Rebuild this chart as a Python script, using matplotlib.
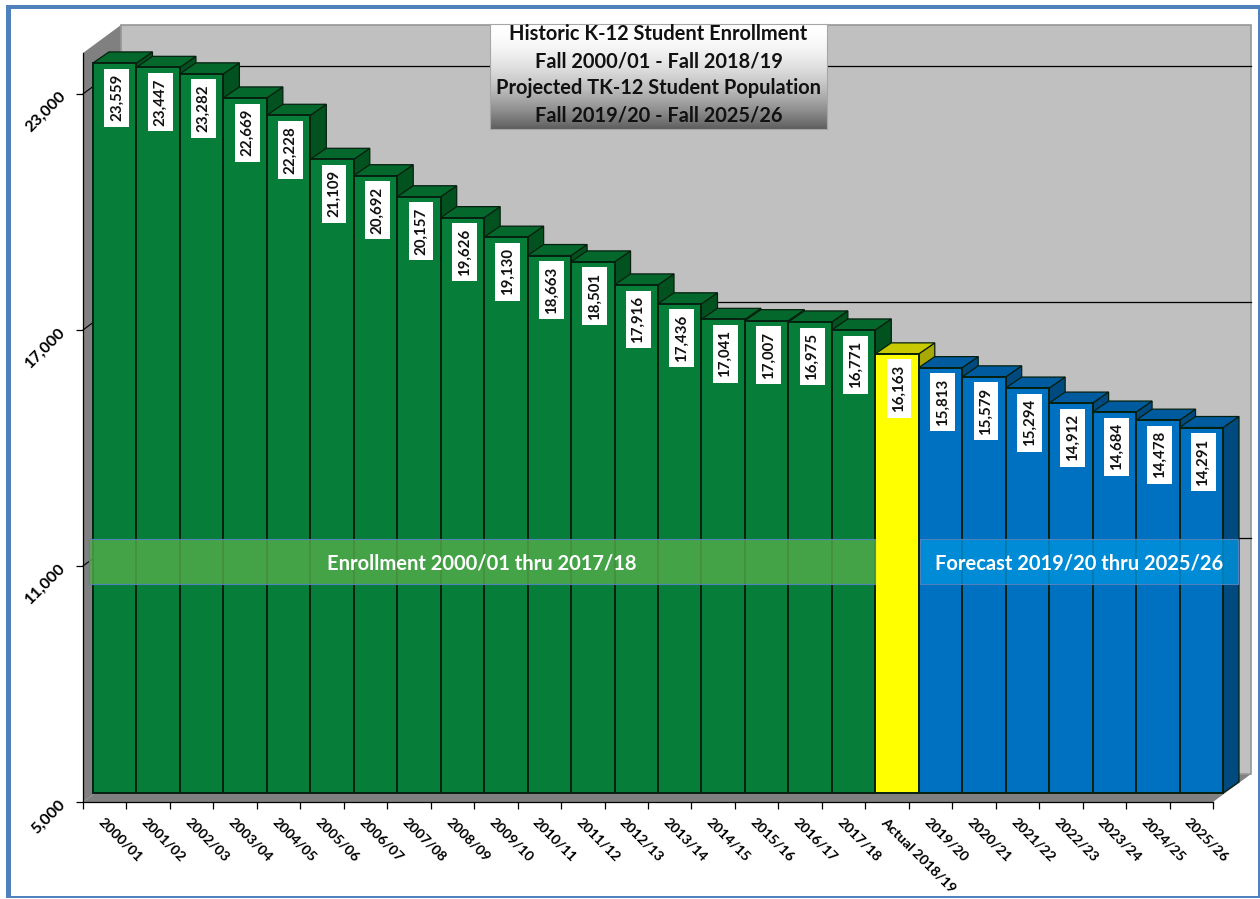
import matplotlib; matplotlib.use('Agg')
import matplotlib.pyplot as plt
import numpy as np
from matplotlib.patches import Rectangle
from matplotlib.transforms import Affine2D

# data
hist_years=['2000/01','2001/02','2002/03','2003/04','2004/05','2005/06','2006/07','2007/08','2008/09',
            '2009/10','2010/11','2011/12','2012/13','2013/14','2014/15','2015/16','2016/17','2017/18']
hist_values=[23559,23447,23282,22669,22228,21109,20692,20157,19626,19130,18663,18501,17916,17436,17041,17007,16975,16771]
actual_years=['Actual 2018/19']
actual_values=[16163]
fcst_years=['2019/20','2020/21','2021/22','2022/23','2023/24','2024/25','2025/26']
fcst_values=[15813,15579,15294,14912,14684,14478,14291]
y_ticks=[5000,11000,17000,23000]
title_lines=['Historic K-12 Student Enrollment','Fall 2000/01 - Fall 2018/19',
             'Projected TK-12 Student Population','Fall 2019/20 - Fall 2025/26']

W,H=1260,899
plt.rcParams['font.family']=['Lato','DejaVu Sans']
fig=plt.figure(figsize=(W/100,H/100),dpi=100,facecolor='white')

# 像素 -> figure fraction, y counted from the top like the picture
def box(x0,y0,x1,y1):
    return [x0/W,1-y1/H,(x1-x0)/W,(y1-y0)/H]

ax=fig.add_axes(box(83,53,1213,802))
ax.patch.set_visible(False)
cats=hist_years+actual_years+fcst_years
vals=hist_values+actual_values+fcst_values
n=len(cats)
ymin,ymax=5000,24040
ax.set_xlim(0,n)
ax.set_ylim(ymin,ymax)
cat_w=1130/n
k=749/(ymax-ymin)

# depth of the fake 3d, pixels turned into data units
wall_dx,wall_dy=38/cat_w,28/k
bar_dx,bar_dy=16/cat_w,11/k
bar_tr=ax.transData+Affine2D().translate(10,9)
back_tr=ax.transData+Affine2D().translate(38,28)

# walls and floor
ax.fill([0,0,wall_dx,wall_dx],[ymin,ymax,ymax+wall_dy,ymin+wall_dy],color='#808080',zorder=1,clip_on=False,lw=0)
ax.fill([0,n,n+wall_dx,wall_dx],[ymin,ymin,ymin+wall_dy,ymin+wall_dy],color='#808080',zorder=1,clip_on=False,lw=0)
ax.fill([wall_dx,n+wall_dx,n+wall_dx,wall_dx],[ymin+wall_dy,ymin+wall_dy,ymax+wall_dy,ymax+wall_dy],
        facecolor='#c0c0c0',edgecolor='#969696',lw=1.2,zorder=1,clip_on=False)

# gridlines on back wall, with the short diagonal on the side wall
for v in y_ticks[1:]:
    ax.plot([0,wall_dx],[v,v+wall_dy],color='black',lw=0.8,zorder=2,clip_on=False)
    ax.plot([0,n],[v,v],color='black',lw=0.9,zorder=2,clip_on=False,transform=back_tr)

colors=['#067d38']*len(hist_values)+['#ffff00']*len(actual_values)+['#0070c0']*len(fcst_values)
tops=['#04682c']*len(hist_values)+['#c9c900']*len(actual_values)+['#005a9e']*len(fcst_values)
sides=['#02521f']*len(hist_values)+['#a8a800']*len(actual_values)+['#004a80']*len(fcst_values)

# left to right so the next bar covers the side of the one before
for i in range(n):
    v=vals[i]
    z=3+i*0.01
    ax.fill([i+1,i+1,i+1+bar_dx,i+1+bar_dx],[ymin,v,v+bar_dy,ymin+bar_dy],facecolor=sides[i],edgecolor='#06200f',
            lw=0.9,zorder=z,clip_on=False,transform=bar_tr)
    ax.fill([i,i+1,i+1+bar_dx,i+bar_dx],[v,v,v+bar_dy,v+bar_dy],facecolor=tops[i],edgecolor='#06200f',
            lw=0.9,zorder=z,clip_on=False,transform=bar_tr)
    ax.bar(i+0.5,v-ymin,width=1,bottom=ymin,color=colors[i],edgecolor='#06200f',lw=1.4,zorder=z,clip_on=False,transform=bar_tr)

# value labels
label_tr=bar_tr+Affine2D().translate(2,-11)
for i in range(n):
    ax.text(i+0.5,vals[i],format(vals[i],','),rotation=90,ha='center',va='top',fontsize=10.8,fontweight='bold',
            color='#111111',zorder=5,clip_on=False,transform=label_tr,
            bbox=dict(boxstyle='square,pad=0.36',facecolor='white',edgecolor='none'))

# axes
for s in ['top','right']:
    ax.spines[s].set_visible(False)
for s in ['left','bottom']:
    ax.spines[s].set_linewidth(0.9)
    ax.spines[s].set_zorder(6)
ax.set_yticks(y_ticks)
ax.set_yticklabels([format(v,',') for v in y_ticks],rotation=45,ha='right',va='center',rotation_mode='anchor',
                   fontsize=11.6,fontweight='bold')
ax.tick_params(axis='y',length=5,width=0.9,pad=9)
ax.set_xticks(np.arange(n)+0.5)
ax.set_xticklabels(cats,rotation=-45,ha='left',va='top',rotation_mode='anchor',fontsize=10.2,fontweight='bold')
ax.tick_params(axis='x',which='major',length=0,pad=10)
ax.set_xticks(np.arange(n+1),minor=True)
ax.tick_params(axis='x',which='minor',length=5,width=0.9)

# translucent bands
def band(x0,x1,color,text):
    y0,y1=539,584
    b=box(x0,y0,x1,y1)
    fig.add_artist(Rectangle((b[0],b[1]),b[2],b[3],transform=fig.transFigure,facecolor=color,alpha=0.8,
                             edgecolor='none',zorder=7))
    fig.add_artist(Rectangle((b[0],b[1]),b[2],b[3],transform=fig.transFigure,facecolor='none',
                             edgecolor='#4f81bd',lw=0.8,zorder=7))
    fig.text((x0+x1)/2/W,1-563/H,text,color='white',fontsize=14.5,fontweight='bold',ha='center',va='center',zorder=8)
band(89,875,'#54ad4c','Enrollment 2000/01 thru 2017/18')
band(920,1238,'#0093dc','Forecast 2019/20 thru 2025/26')

# title box with white to grey fade
tax=fig.add_axes(box(490,24,827,129),zorder=9)
grad=(1-np.linspace(0,1,100)**1.8).reshape(-1,1)
tax.imshow(grad,aspect='auto',cmap='gray',vmin=-0.6,vmax=1,extent=[0,1,0,1],interpolation='bilinear')
tax.set_xticks([])
tax.set_yticks([])
for s in tax.spines.values():
    s.set_edgecolor('#a6a6a6')
    s.set_linewidth(0.8)
for j,t in enumerate(title_lines):
    fig.text(658.5/W,1-(34+27*j)/H,t,fontsize=14.4,fontweight='bold',color='#111111',ha='center',va='center',zorder=10)

# outer frame, thick on top and left
frame='#4f81bd'
for x0,y0,x1,y1 in [(6,5,11,897),(6,5,1259,9),(1258,5,1260,898),(6,896,1260,898)]:
    b=box(x0,y0,x1,y1)
    fig.add_artist(Rectangle((b[0],b[1]),b[2],b[3],transform=fig.transFigure,facecolor=frame,edgecolor='none',zorder=11))

fig.savefig('out.png',dpi=100)
